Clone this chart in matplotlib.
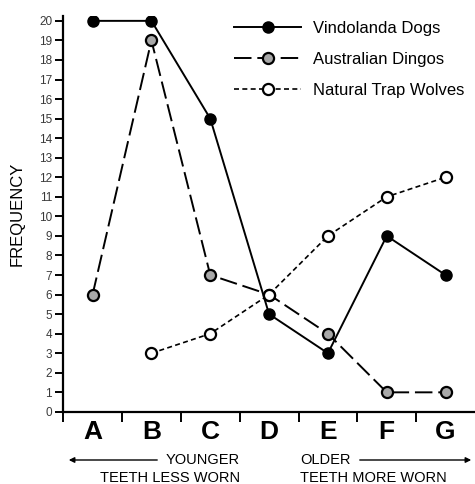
import matplotlib.pyplot as plt

categories = ["A", "B", "C", "D", "E", "F", "G"]
vindolanda = [20, 20, 15, 5, 3, 9, 7]
dingos = [6, 19, 7, 6, 4, 1, 1]
wolf_cats = ["B", "C", "D", "E", "F", "G"]
wolves = [3, 4, 6, 9, 11, 12]
yticks = list(range(0, 21))


def main():
    plt.rcParams['font.family'] = ['Liberation Sans', 'DejaVu Sans']
    fig = plt.figure(figsize=(4.75, 4.84), dpi=100)
    ax = fig.add_axes([0.133, 0.149, 0.867, 0.818])

    xs = [categories.index(c) + 0.5 for c in categories]
    wxs = [categories.index(c) + 0.5 for c in wolf_cats]

    ax.plot(xs, vindolanda, '-', color='black', lw=1.4, marker='o',
            ms=8, mfc='black', mec='black', label='Vindolanda Dogs')
    ax.plot(xs, dingos, color='black', lw=1.4, dashes=(9, 3), marker='o',
            ms=8, mfc='#a8a8a8', mec='black', mew=1.6, label='Australian Dingos')
    ax.plot(wxs, wolves, color='black', lw=1.2, dashes=(3, 2), marker='o',
            ms=8, mfc='white', mec='black', mew=1.6, label='Natural Trap Wolves')

    ax.set_xlim(0, 7)
    ax.set_ylim(0, 20.25)
    ax.set_yticks(yticks)
    ax.set_yticklabels([str(t) for t in yticks], fontsize=8.5, color='#3a3a3a')
    ax.set_xticks(range(0, 7))
    ax.set_xticklabels([])
    ax.set_xticks(xs, minor=True)
    ax.set_xticklabels(categories, minor=True, fontsize=19, fontweight='bold')
    ax.tick_params(axis='x', which='minor', length=0, pad=6)
    ax.tick_params(axis='x', which='major', direction='out', length=7, width=1.4)
    ax.tick_params(axis='y', direction='out', length=6, width=1.4, pad=2)
    for s in ['top', 'right']:
        ax.spines[s].set_visible(False)
    for s in ['left', 'bottom']:
        ax.spines[s].set_linewidth(1.6)

    ax.set_ylabel("FREQUENCY", fontsize=12)
    ax.yaxis.set_label_coords(-0.093, 0.5)

    ax.legend(loc='upper right', bbox_to_anchor=(1.01, 1.025), frameon=False,
              fontsize=12, handlelength=4.0, labelspacing=0.95,
              handletextpad=0.7)

    # age annotations below the axis
    fs = 10.5
    fig.text(240 / 475, 1 - 460 / 484, "YOUNGER", ha='right', va='center', fontsize=fs)
    fig.text(240 / 475, 1 - 478 / 484, "TEETH LESS WORN", ha='right', va='center', fontsize=fs)
    fig.text(300 / 475, 1 - 460 / 484, "OLDER", ha='left', va='center', fontsize=fs)
    fig.text(300 / 475, 1 - 478 / 484, "TEETH MORE WORN", ha='left', va='center', fontsize=fs)
    ay = 1 - 460 / 484
    fig.add_artist(plt.Annotation("", xy=(66 / 475, ay), xytext=(160 / 475, ay),
                                  xycoords='figure fraction',
                                  arrowprops=dict(arrowstyle='-|>', color='black',
                                                  lw=1.0, mutation_scale=8)))
    fig.add_artist(plt.Annotation("", xy=(474 / 475, ay), xytext=(357 / 475, ay),
                                  xycoords='figure fraction',
                                  arrowprops=dict(arrowstyle='-|>', color='black',
                                                  lw=1.0, mutation_scale=8)))

    fig.savefig("out.png", dpi=100)


if __name__ == "__main__":
    main()
